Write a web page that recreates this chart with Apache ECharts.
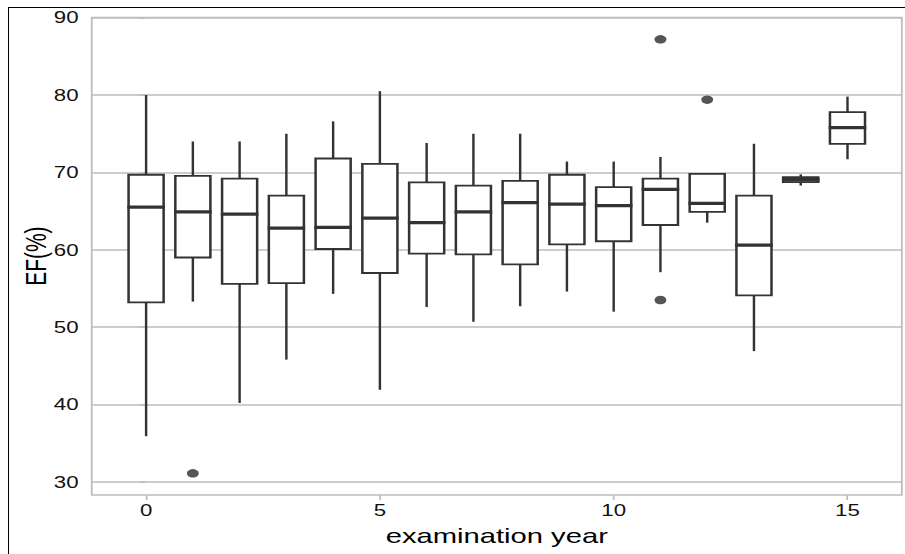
<!DOCTYPE html>
<html><head><meta charset="utf-8">
<script src="https://cdn.jsdelivr.net/npm/echarts@6/dist/echarts.min.js"></script>
<style>
html,body{margin:0;padding:0;background:#fff;overflow:hidden;width:905px;height:554px;}
#frame{position:absolute;left:8px;top:7px;right:0;bottom:0;border-top:1.5px solid #000;border-left:1.5px solid #000;}
#chart{position:absolute;left:0;top:0;height:554px;transform-origin:0 0;}
</style></head><body>
<div id="frame"></div>
<div id="chart"></div>
<script>
// ---- data ----
const years       = [0, 1, 2, 3, 4, 5, 6, 7, 8, 9, 10, 11, 12, 13, 14, 15];
const whiskerLow  = [35.9, 53.3, 40.2, 45.8, 54.3, 41.9, 52.6, 50.7, 52.7, 54.6, 52.0, 57.1, 63.5, 46.9, 68.3, 71.7];
const q1          = [53.2, 59.0, 55.6, 55.7, 60.1, 57.0, 59.5, 59.4, 58.1, 60.7, 61.1, 63.2, 64.9, 54.1, 68.75, 73.7];
const median      = [65.5, 64.9, 64.6, 62.8, 62.9, 64.1, 63.5, 64.9, 66.1, 65.9, 65.7, 67.8, 66.0, 60.6, 69.05, 75.8];
const q3          = [69.7, 69.55, 69.2, 67.0, 71.8, 71.1, 68.7, 68.3, 68.9, 69.7, 68.1, 69.2, 69.8, 67.0, 69.4, 77.8];
const whiskerHigh = [80.0, 74.0, 74.0, 75.0, 76.6, 80.5, 73.8, 75.0, 75.0, 71.4, 71.4, 72.0, 69.8, 73.7, 69.75, 79.8];
const outlierYear = [1, 11, 11, 12];
const outlierEF   = [31.1, 87.2, 53.5, 79.4];
const xTicks = [0, 5, 10, 15];
const yTicks = [30, 40, 50, 60, 70, 80, 90];

// ---- layout: the reference is horizontally stretched ----
const SX = 1.39;
const el = document.getElementById('chart');
el.style.width = (905 / SX) + 'px';
el.style.transform = 'scaleX(' + SX + ')';

const boxData = years.map((y, i) => [y, whiskerLow[i], q1[i], median[i], q3[i], whiskerHigh[i]]);
const outData = outlierYear.map((y, i) => [y, outlierEF[i]]);

const INK = '#333333';
const GRID = '#bdbdbd';
const FONT = '"Liberation Sans", Arial, sans-serif';
const BOX_W = 0.75;

const chart = echarts.init(el, null, {renderer: 'svg'});
chart.setOption({
  animation: false,
  grid: {left: 66, right: 2.2, top: 17.3, bottom: 59, show: true,
         borderColor: GRID, borderWidth: 1.3, backgroundColor: 'transparent'},
  xAxis: {
    type: 'value', min: -1.1625, max: 16.1625,
    name: 'examination year', nameLocation: 'middle', nameGap: 30, nameMoveOverlap: false,
    nameTextStyle: {fontSize: 21, color: '#000', fontFamily: FONT},
    axisLine: {show: false},
    axisTick: {show: true, length: 5, lineStyle: {color: GRID, width: 1.3}, customValues: xTicks},
    axisLabel: {fontSize: 16, color: '#111', fontFamily: FONT, margin: 7.5, customValues: xTicks},
    splitLine: {show: false}
  },
  yAxis: {
    type: 'value', min: 28.3, max: 90.05,
    name: 'EF(%)', nameLocation: 'middle', nameGap: 30, nameRotate: 90, nameMoveOverlap: false,
    nameTextStyle: {fontSize: 21, color: '#000', fontFamily: FONT},
    axisLine: {show: false},
    axisTick: {show: true, length: 5, lineStyle: {color: GRID, width: 1.5}, customValues: yTicks},
    axisLabel: {fontSize: 16, color: '#111', fontFamily: FONT, margin: 9.5, customValues: yTicks},
    splitLine: {show: true, lineStyle: {color: GRID, width: 1.5}}
  },
  series: [
    {
      type: 'custom',
      data: boxData,
      encode: {x: 0, y: [1, 2, 3, 4, 5]},
      renderItem: function (params, api) {
        const x = api.value(0);
        const pLo = api.coord([x, api.value(1)]);
        const pQ1 = api.coord([x, api.value(2)]);
        const pMed = api.coord([x, api.value(3)]);
        const pQ3 = api.coord([x, api.value(4)]);
        const pHi = api.coord([x, api.value(5)]);
        const w = api.size([BOX_W, 0])[0];
        const cx = pMed[0];
        const ls = {stroke: INK, lineWidth: 1.75, fill: null};
        return {type: 'group', children: [
          {type: 'line', shape: {x1: cx, y1: pQ1[1], x2: cx, y2: pLo[1]}, style: ls},
          {type: 'line', shape: {x1: cx, y1: pQ3[1], x2: cx, y2: pHi[1]}, style: ls},
          {type: 'rect', shape: {x: cx - w / 2, y: pQ3[1], width: w, height: pQ1[1] - pQ3[1]},
           style: {fill: '#fff', stroke: INK, lineWidth: 1.8}},
          {type: 'line', shape: {x1: cx - w / 2 - 0.9, y1: pMed[1], x2: cx + w / 2 + 0.9, y2: pMed[1]},
           style: {stroke: INK, lineWidth: 3.3, fill: null}}
        ]};
      }
    },
    {
      type: 'scatter',
      data: outData,
      symbol: 'circle',
      symbolSize: 8.5,
      itemStyle: {color: '#2b2b2b'}
    }
  ]
});
</script>
</body></html>
